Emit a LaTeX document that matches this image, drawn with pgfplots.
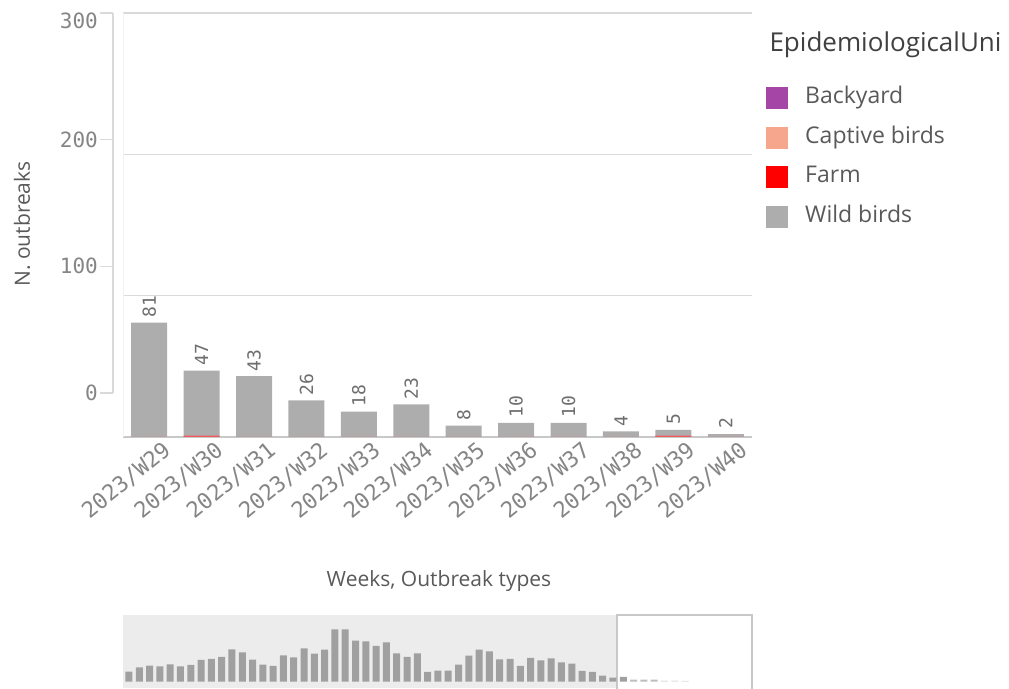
\documentclass[border=0pt]{standalone}
\usepackage{pgfplots}
\pgfplotsset{compat=1.18}
\usepackage{fontspec}
\setmainfont{Open Sans}
\setmonofont{DejaVu Sans Mono}
\definecolor{wild}{HTML}{ADADAD}
\definecolor{farm}{HTML}{F0595E}
\definecolor{farmleg}{HTML}{FF0000}
\definecolor{captive}{HTML}{F5A68C}
\definecolor{backyard}{HTML}{A545A5}
\definecolor{tickgray}{HTML}{858585}
\definecolor{valgray}{HTML}{6E6E6E}
\definecolor{labgray}{HTML}{595959}
\definecolor{gridgray}{HTML}{DADADA}
\definecolor{minibg}{HTML}{ECECEC}
\definecolor{minibar}{HTML}{A0A0A0}
\definecolor{minimid}{HTML}{BDBDBD}
\definecolor{minilight}{HTML}{DCDCDC}
\definecolor{boxgray}{HTML}{C8C8C8}

\pgfplotstableread{
x farm wild total
0 0 81 81
1 1 46 47
2 0 43 43
3 0 26 26
4 0 18 18
5 0 23 23
6 0 8 8
7 0 10 10
8 0 10 10
9 0 4 4
10 1 4 5
11 0 2 2
}\weekly

\pgfplotstableread{
x h
0 30
1 43
2 48
3 46
4 52
5 46
6 50
7 65
8 68
9 74
10 97
11 88
12 66
13 51
14 47
15 79
16 73
17 100
18 84
19 96
20 157
21 157
22 123
23 121
24 107
25 118
26 85
27 74
28 85
29 29
30 33
31 33
32 51
33 78
34 96
35 91
36 67
37 68
38 47
39 71
40 64
41 70
42 58
43 54
44 32
45 29
46 18
47 12
48 14
}\minidark
\pgfplotstableread{
x h
49 6
50 6
51 6
}\minimid
\pgfplotstableread{
x h
52 3
53 3
54 2
}\minilight

\begin{document}
\begin{tikzpicture}[x=1pt,y=1pt]
\useasboundingbox (0,0) rectangle (1009,688);

% main plot
\begin{axis}[
  at={(123pt,251pt)}, anchor=south west,
  scale only axis, width=629pt, height=424pt,
  xmin=-0.5, xmax=11.5, ymin=0, ymax=300,
  axis x line*=bottom, axis y line*=left,
  x axis line style={draw=boxgray, line width=1.5pt},
  y axis line style={draw=black!5, line width=1pt},
  xtick={0,...,11},
  xticklabels={2023/W29,2023/W30,2023/W31,2023/W32,2023/W33,2023/W34,2023/W35,2023/W36,2023/W37,2023/W38,2023/W39,2023/W40},
  x tick label style={rotate=39, anchor=north east, inner sep=1pt, xshift=9pt, yshift=-9pt,
    font=\ttfamily\fontsize{22}{22}\selectfont, text=tickgray},
  major x tick style={draw=none},
  ytick={100,200,300}, yticklabels={},
  major y tick style={draw=none},
  ymajorgrids, y grid style={draw=gridgray, line width=1.5pt},
  clip=false,
  legend image code/.code={\fill[#1,draw=none] (0pt,-11pt) rectangle (22pt,11pt);},
  legend style={at={(axis description cs:1.0223,0.825)}, anchor=north west,
    draw=none, fill=none, font=\fontsize{23}{25}\selectfont, text=labgray,
    row sep=17.5pt, inner sep=0pt,
    nodes={inner sep=0pt, text height=15pt, text depth=4pt},
    /tikz/every odd column/.append style={column sep=17pt}},
  legend cell align=left,
]
\addlegendimage{fill=backyard}
\addlegendentry{Backyard}
\addlegendimage{fill=captive}
\addlegendentry{Captive birds}
\addlegendimage{fill=farmleg}
\addlegendentry{Farm}
\addlegendimage{fill=wild}
\addlegendentry{Wild birds}
\addplot[ybar, bar width=36pt, bar shift=0pt, fill=wild, draw=none, forget plot,
  nodes near coords={\pgfplotspointmeta}, point meta=explicit symbolic,
  every node near coord/.append style={rotate=90, anchor=west, inner sep=5pt,
    font=\ttfamily\fontsize{18}{18}\selectfont, text=valgray}]
  table[x=x, y=total, meta=total] {\weekly};
\addplot[ybar, bar width=36pt, bar shift=0pt, fill=farm, draw=none, forget plot]
  table[x=x, y=farm] {\weekly};
\end{axis}

% left value axis (offset scale, as drawn in the reference)
\begin{axis}[
  at={(113pt,295pt)}, anchor=south west,
  scale only axis, width=8pt, height=380pt,
  xmin=0, xmax=1, ymin=0, ymax=300,
  axis y line*=left, hide x axis,
  y axis line style={draw=gridgray, line width=1.5pt},
  ytick={0,100,200}, extra y ticks={300},
  extra y tick style={yticklabel style={yshift=-8pt}},
  tick align=outside, major tick length=13pt,
  every tick/.style={draw=gridgray, line width=1.5pt},
  /pgf/number format/assume math mode=true,
  yticklabel style={font=\ttfamily\fontsize{21}{21}\selectfont, text=tickgray, inner sep=2pt},
]
\addplot[draw=none] coordinates {(0,0)};
\end{axis}

\node[rotate=90, font=\fontsize{21}{21}\selectfont, text=labgray] at (22,464) {N. outbreaks};
\node[font=\fontsize{21}{21}\selectfont, text=labgray] at (439,107) {Weeks, Outbreak types};
\node[anchor=west, font=\fontsize{26}{26}\selectfont, text=black!75] at (766,643) {EpidemiologicalUni};

% mini navigator
\fill[minibg] (123,0) rectangle (617,73);
\draw[boxgray, line width=1.2pt] (617,-2) rectangle (752,73);
\begin{axis}[
  at={(123pt,0pt)}, anchor=south west,
  scale only axis, width=629pt, height=73pt,
  xmin=-0.58, xmax=60.5, ymin=-19, ymax=200,
  hide axis, ybar, bar width=7pt, bar shift=0pt,
]
\addplot[fill=minibar, draw=none] table[x=x, y=h] {\minidark};
\addplot[fill=minimid, draw=none] table[x=x, y=h] {\minimid};
\addplot[fill=minilight, draw=none] table[x=x, y=h] {\minilight};
\end{axis}
\end{tikzpicture}
\end{document}
